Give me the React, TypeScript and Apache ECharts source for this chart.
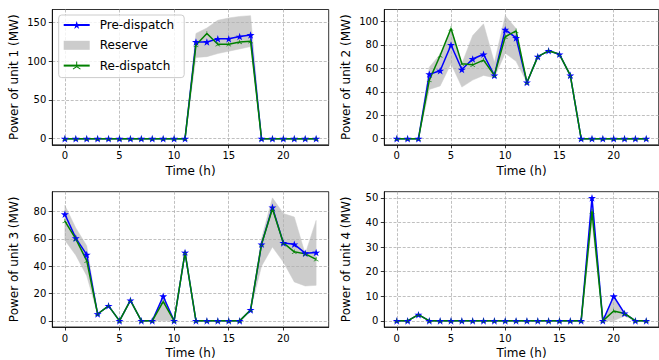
import { useEffect, useRef } from 'react';
import * as echarts from 'echarts';

const hours = [0, 1, 2, 3, 4, 5, 6, 7, 8, 9, 10, 11, 12, 13, 14, 15, 16, 17, 18, 19, 20, 21, 22, 23];

const pre1 = [0, 0, 0, 0, 0, 0, 0, 0, 0, 0, 0, 0, 125, 125, 129, 129, 132, 134, 0, 0, 0, 0, 0, 0];
const re1 = [0, 0, 0, 0, 0, 0, 0, 0, 0, 0, 0, 0, 121, 136, 122, 122, 125, 126, 0, 0, 0, 0, 0, 0];
const lo1 = [0, 0, 0, 0, 0, 0, 0, 0, 0, 0, 0, 0, 105, 106, 110, 113, 116, 119, 0, 0, 0, 0, 0, 0];
const hi1 = [0, 0, 0, 0, 0, 0, 0, 0, 0, 0, 0, 0, 136, 143, 153, 156, 158, 159, 0, 0, 0, 0, 0, 0];

const pre2 = [0, 0, 0, 55, 58, 80, 59, 68, 72, 54, 93, 86, 48, 70, 75, 72, 54, 0, 0, 0, 0, 0, 0, 0];
const re2 = [0, 0, 0, 50, 71, 94, 64, 63, 67, 54, 87, 92, 48, 70, 75, 72, 54, 0, 0, 0, 0, 0, 0, 0];
const lo2 = [0, 0, 0, 42, 45, 64, 44, 50, 54, 52, 73, 66, 48, 70, 75, 72, 54, 0, 0, 0, 0, 0, 0, 0];
const hi2 = [0, 0, 0, 61, 72, 94, 64, 88, 98, 65, 105, 94, 48, 70, 75, 72, 54, 0, 0, 0, 0, 0, 0, 0];

const pre3 = [78, 60.5, 48.5, 5, 11, 0, 15, 0, 0, 18, 0, 50, 0, 0, 0, 0, 0, 8, 56, 83, 57, 56, 49.5, 50];
const re3 = [73, 60, 44, 5, 11, 0, 15, 0, 0, 14, 0, 50, 0, 0, 0, 0, 0, 8, 56, 82, 57, 50.5, 49, 45];
const lo3 = [59, 48, 33, 5, 11, 0, 15, 0, 0, 0, 0, 50, 0, 0, 0, 0, 0, 8, 40, 54, 43, 28.5, 25.5, 26];
const hi3 = [84.5, 68, 55, 5, 11, 0, 15, 0, 0, 18, 0, 50, 0, 0, 0, 0, 0, 8, 60, 90, 78.5, 76, 49, 73.5];

const pre4 = [0, 0, 2.5, 0, 0, 0, 0, 0, 0, 0, 0, 0, 0, 0, 0, 0, 0, 0, 50, 0, 10, 3, 0, 0];
const re4 = [0, 0, 2.5, 0, 0, 0, 0, 0, 0, 0, 0, 0, 0, 0, 0, 0, 0, 0, 44.5, 0, 4, 3, 0, 0];
const lo4 = [0, 0, 2.5, 0, 0, 0, 0, 0, 0, 0, 0, 0, 0, 0, 0, 0, 0, 0, 40, 0, 0, 2, 0, 0];
const hi4 = [0, 0, 2.5, 0, 0, 0, 0, 0, 0, 0, 0, 0, 0, 0, 0, 0, 0, 0, 50, 0, 10, 3, 0, 0];

const xTicks = [0, 5, 10, 15, 20];
const yTicks1 = [0, 50, 100, 150];
const yTicks2 = [0, 20, 40, 60, 80, 100];
const yTicks3 = [0, 20, 40, 60, 80];
const yTicks4 = [0, 10, 20, 30, 40, 50];

const yNames = ['Power of unit 1 (MW)', 'Power of unit 2 (MW)', 'Power of unit 3 (MW)', 'Power of unit 4 (MW)'];
const xName = 'Time (h)';
const seriesNames = ['Pre-dispatch', 'Reserve', 'Re-dispatch'];

const units = [
  { pre: pre1, re: re1, lo: lo1, hi: hi1, yTicks: yTicks1 },
  { pre: pre2, re: re2, lo: lo2, hi: hi2, yTicks: yTicks2 },
  { pre: pre3, re: re3, lo: lo3, hi: hi3, yTicks: yTicks3 },
  { pre: pre4, re: re4, lo: lo4, hi: hi4, yTicks: yTicks4 },
];

const gridBoxes = [
  { left: 52.3, top: 9.5, width: 276.4, height: 135.3 },
  { left: 384.3, top: 9.5, width: 274.4, height: 135.3 },
  { left: 52.3, top: 191.7, width: 276.4, height: 135.3 },
  { left: 384.3, top: 191.7, width: 274.4, height: 135.3 },
];

const FONT = 'DejaVu Sans';
const STAR = 'path://M50 0 L61.17 34.63 L97.55 34.55 L68.07 55.87 L79.39 90.45 L50 69 L20.61 90.45 L31.93 55.87 L2.45 34.55 L38.83 34.63 Z';
const TRI = 'path://M4.4 0 L5.6 0 L5.6 5.2 L9.9 7.9 L9.3 8.9 L5 6.3 L0.7 8.9 L0.1 7.9 L4.4 5.2 Z';

function padRange(values: number[]): [number, number] {
  const mx = Math.max(...values);
  const mn = Math.min(...values);
  const pad = (mx - mn) * 0.05;
  return [mn - pad, mx + pad];
}

export default function App() {
  const ref = useRef<HTMLDivElement>(null);

  useEffect(() => {
    if (!ref.current) return;
    const chart = echarts.init(ref.current, undefined, { renderer: 'svg' });
    const [xMin, xMax] = padRange(hours);

    const grid: any[] = [];
    const xAxis: any[] = [];
    const yAxis: any[] = [];
    const series: any[] = [];

    units.forEach((u, i) => {
      grid.push({ ...gridBoxes[i], show: true, borderColor: '#000', borderWidth: 0.8, containLabel: false });
      const [yMin, yMax] = padRange([...u.pre, ...u.re, ...u.lo, ...u.hi]);
      xAxis.push({
        type: 'value', gridIndex: i, min: xMin, max: xMax, z: 1,
        name: xName, nameLocation: 'middle', nameGap: 20,
        nameTextStyle: { fontFamily: FONT, fontSize: 12, color: '#000' },
        axisLine: { show: true, onZero: false, lineStyle: { color: '#000', width: 0.8 } },
        axisTick: { show: true, customValues: xTicks, length: 3.5, lineStyle: { color: '#000', width: 0.8 } },
        axisLabel: { customValues: xTicks, margin: 6, fontFamily: FONT, fontSize: 10, color: '#000' },
        splitLine: { show: true, lineStyle: { color: '#b0b0b0', width: 0.8, type: [3, 1.6] } },
      });
      yAxis.push({
        type: 'value', gridIndex: i, min: yMin, max: yMax, z: 1,
        name: yNames[i], nameLocation: 'middle', nameGap: 32, nameRotate: 90,
        nameTextStyle: { fontFamily: FONT, fontSize: 12, color: '#000' },
        axisLine: { show: true, onZero: false, lineStyle: { color: '#000', width: 0.8 } },
        axisTick: { show: true, customValues: u.yTicks, length: 3.5, lineStyle: { color: '#000', width: 0.8 } },
        axisLabel: { customValues: u.yTicks, margin: 6, fontFamily: FONT, fontSize: 10, color: '#000' },
        splitLine: { show: true, lineStyle: { color: '#b0b0b0', width: 0.8, type: [3, 1.6] } },
      });

      const bandData = hours.map((h, k) => [h, u.lo[k], u.hi[k]]);
      series.push({
        type: 'custom', name: seriesNames[1], xAxisIndex: i, yAxisIndex: i, z: 0.5, silent: true,
        itemStyle: { color: '#cccccc' },
        encode: { x: 0, y: [1, 2] },
        data: bandData,
        renderItem: (params: any, api: any) => {
          if (params.dataIndex !== 0) return null;
          const top = bandData.map((d) => api.coord([d[0], d[2]]));
          const bottom = bandData.map((d) => api.coord([d[0], d[1]])).reverse();
          return {
            type: 'polygon',
            shape: { points: [...top, ...bottom] },
            style: { fill: '#cccccc', stroke: '#cccccc', lineWidth: 0.5 },
          };
        },
      });
      series.push({
        type: 'line', name: seriesNames[0], xAxisIndex: i, yAxisIndex: i,
        data: hours.map((h, k) => [h, u.pre[k]]),
        color: '#0000ff',
        lineStyle: { color: '#0000ff', width: 1.5 },
        itemStyle: { color: '#0000ff' },
        symbol: STAR, symbolSize: 8, showAllSymbol: true, symbolKeepAspect: true,
      });
      series.push({
        type: 'line', name: seriesNames[2], xAxisIndex: i, yAxisIndex: i,
        data: hours.map((h, k) => [h, u.re[k]]),
        color: '#008000',
        lineStyle: { color: '#008000', width: 1.5 },
        itemStyle: { color: '#008000' },
        symbol: TRI, symbolSize: 5, showAllSymbol: true, symbolKeepAspect: true,
      });
    });

    chart.setOption({
      animation: false,
      backgroundColor: '#fff',
      textStyle: { fontFamily: FONT },
      grid, xAxis, yAxis, series,
      legend: {
        show: true, selectedMode: false, orient: 'vertical',
        left: 58.7, top: 15,
        padding: [4, 10, 6, 4],
        itemWidth: 26, itemHeight: 10, itemGap: 8.3,
        backgroundColor: 'rgba(255,255,255,0.8)',
        borderColor: '#cccccc', borderWidth: 1, borderRadius: 3,
        textStyle: { fontFamily: FONT, fontSize: 12, color: '#000', padding: [0, 0, 0, 5] },
        data: [
          { name: seriesNames[0] },
          { name: seriesNames[1], icon: 'path://M0 0 L26 0 L26 9 L0 9 Z', itemStyle: { color: '#cccccc' } },
          { name: seriesNames[2] },
        ],
      },
    });
    return () => chart.dispose();
  }, []);

  return <div ref={ref} style={{ position: 'absolute', left: 0, top: 0, width: 659, height: 360 }} />;
}
